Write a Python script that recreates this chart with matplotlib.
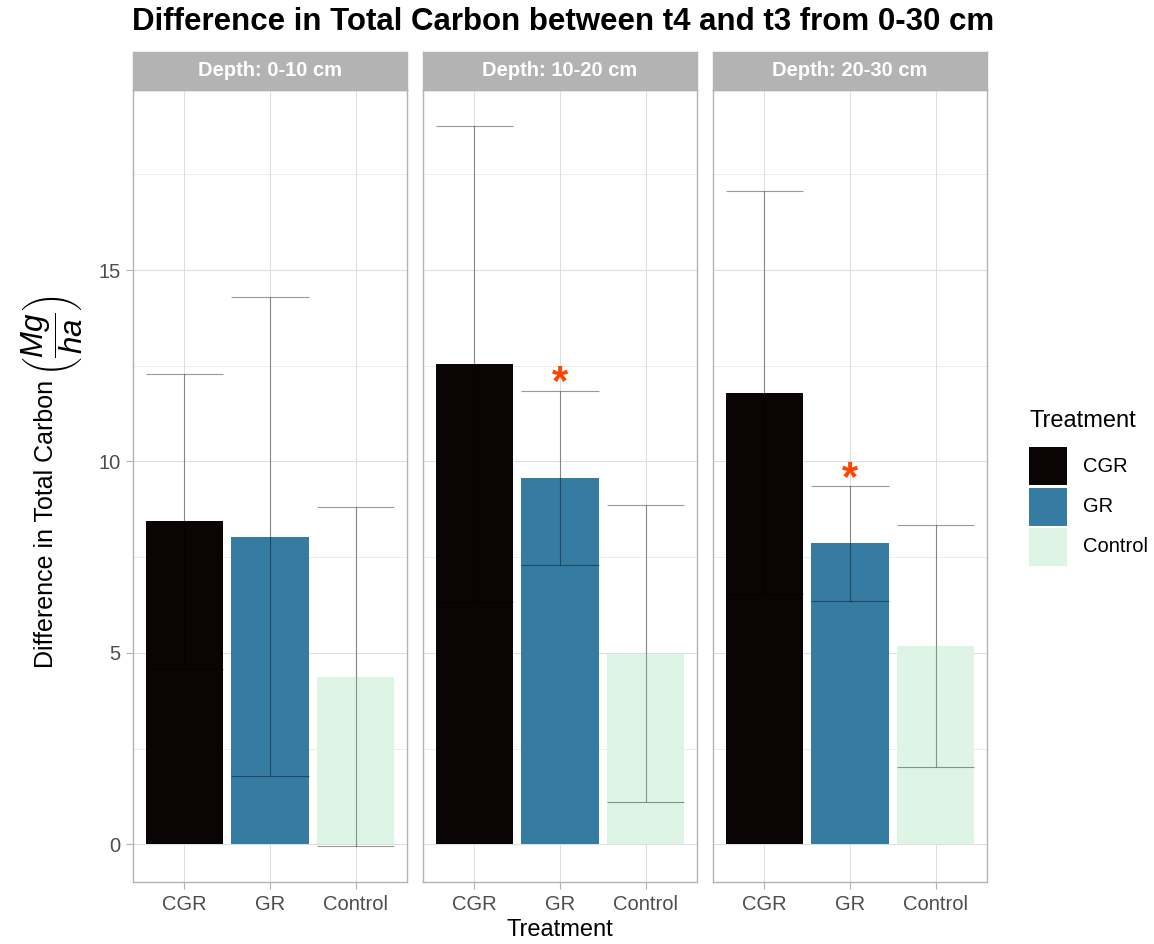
import matplotlib
matplotlib.use('Agg')
import matplotlib.pyplot as plt
from matplotlib.patches import Rectangle
from matplotlib.ticker import MultipleLocator

plt.rcParams['font.family'] = ['Liberation Sans', 'DejaVu Sans']
plt.rcParams['mathtext.fontset'] = 'custom'
plt.rcParams['mathtext.rm'] = 'Liberation Sans'
plt.rcParams['mathtext.it'] = 'Liberation Sans:italic'

# ---------------- data ----------------
treatments = ['CGR', 'GR', 'Control']
depth_labels = ['Depth: 0-10 cm', 'Depth: 10-20 cm', 'Depth: 20-30 cm']

means_d1 = [8.44, 8.04, 4.38]
halfw_d1 = [3.85, 6.25, 4.42]
sig_d1 = [False, False, False]

means_d2 = [12.54, 9.57, 4.98]
halfw_d2 = [6.22, 2.28, 3.88]
sig_d2 = [False, True, False]

means_d3 = [11.80, 7.86, 5.18]
halfw_d3 = [5.25, 1.49, 3.17]
sig_d3 = [False, True, False]

y_ticks = [0, 5, 10, 15]
colors = ['#0B0405', '#357BA2', '#DEF5E5']

panels = [(means_d1, halfw_d1, sig_d1),
          (means_d2, halfw_d2, sig_d2),
          (means_d3, halfw_d3, sig_d3)]

# ---------------- layout ----------------
W, H = 1154, 944
fig = plt.figure(figsize=(W / 100, H / 100), dpi=100)

lefts = [133, 423, 713]
pw = 274
ptop, pbot = 90, 882
strip_h = 38

grid_col = '#dedede'
border_col = '#b3b3b3'
tick_col = '#4d4d4d'

# common y limits (ggplot style 5% expansion)
lows = [m - h for p in panels for m, h in zip(p[0], p[1])] + [0]
highs = [m + h for p in panels for m, h in zip(p[0], p[1])]
lo, hi = min(lows), max(highs)
pad = 0.05 * (hi - lo)
ylim = (lo - pad, hi + pad)

x = list(range(len(treatments)))

for i, (means, halfw, sig) in enumerate(panels):
    ax = fig.add_axes([lefts[i] / W, (H - pbot) / H, pw / W, (pbot - ptop) / H])
    ax.set_xlim(-0.6, len(treatments) - 0.4)
    ax.set_ylim(*ylim)
    ax.set_axisbelow(True)
    ax.yaxis.set_major_locator(MultipleLocator(5))
    ax.yaxis.set_minor_locator(MultipleLocator(2.5))
    ax.grid(True, which='major', color=grid_col, lw=0.75)
    ax.grid(True, which='minor', axis='y', color=grid_col, lw=0.4)
    for s in ax.spines.values():
        s.set_color(border_col)
        s.set_linewidth(1.0)

    ax.bar(x, means, width=0.9, color=colors, zorder=2)
    lows_ = [m - h for m, h in zip(means, halfw)]
    highs_ = [m + h for m, h in zip(means, halfw)]
    ax.vlines(x, lows_, highs_, color='black', alpha=0.4, lw=0.8, zorder=3)
    ax.hlines(lows_, [xi - 0.45 for xi in x], [xi + 0.45 for xi in x],
              color='black', alpha=0.4, lw=0.8, zorder=3)
    ax.hlines(highs_, [xi - 0.45 for xi in x], [xi + 0.45 for xi in x],
              color='black', alpha=0.4, lw=0.8, zorder=3)

    fs_star = 30
    for xi, up, s in zip(x, highs_, sig):
        if s:
            ax.annotate('*', xy=(xi, up + 0.53), xytext=(0, -0.57 * fs_star),
                        textcoords='offset points', ha='center', va='baseline',
                        fontsize=fs_star, color='#ff4500', fontweight='bold', zorder=4)

    ax.set_xticks(x)
    ax.set_xticklabels(treatments)
    ax.tick_params(axis='both', which='major', length=5, width=0.8, color=border_col,
                   labelsize=14.5, labelcolor=tick_col, pad=4)
    ax.tick_params(axis='y', which='minor', length=0)
    if i == 0:
        ax.set_yticks(y_ticks)
    else:
        ax.tick_params(axis='y', which='both', left=False, labelleft=False)

    # strip
    sax = fig.add_axes([lefts[i] / W, (H - ptop) / H, pw / W, strip_h / H])
    sax.set_facecolor(border_col)
    sax.set_xticks([])
    sax.set_yticks([])
    for s in sax.spines.values():
        s.set_color(border_col)
        s.set_linewidth(1.0)
    sax.text(0.5, 0.5, depth_labels[i], transform=sax.transAxes, ha='center',
             va='center', color='white', fontsize=14.5, fontweight='bold')

# title
fig.text(563 / W, 1 - 22 / H, 'Difference in Total Carbon between t4 and t3 from 0-30 cm',
         ha='center', va='center', fontsize=22.5, fontweight='bold')

# axis titles
fig.text(560 / W, 1 - 930 / H, 'Treatment', ha='center', va='center', fontsize=17)
fig.text(53 / W, 1 - 668 / H, 'Difference in Total Carbon', rotation=90,
         rotation_mode='anchor', ha='left', va='baseline', fontsize=18)
fig.text(52 / W, 1 - 336 / H, r'$\left(\dfrac{Mg}{ha}\right)$',
         rotation=90, ha='center', va='center', fontsize=22.5)

# legend
fig.text(1030 / W, 1 - 421 / H, 'Treatment', ha='left', va='center', fontsize=17)
for k, (lab, c) in enumerate(zip(treatments, colors)):
    top = 447 + 40.5 * k
    fig.add_artist(Rectangle((1029 / W, 1 - (top + 38) / H), 38 / W, 38 / H,
                             transform=fig.transFigure, facecolor=c, edgecolor='none'))
    fig.text(1083 / W, 1 - (top + 19) / H, lab, ha='left', va='center', fontsize=14.5)

fig.savefig('out.png', dpi=100, facecolor='white')
